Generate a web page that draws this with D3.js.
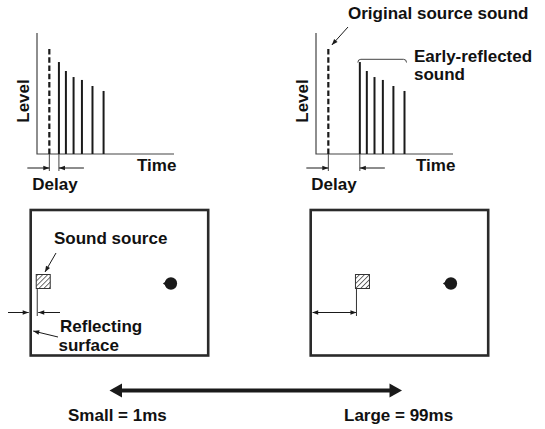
<!DOCTYPE html>
<html>
<head>
<meta charset="utf-8">
<script src="https://cdn.jsdelivr.net/npm/d3@7"></script>
<style>
  body { margin: 0; background: #fff; }
  text { font-family: "Liberation Sans", Arial, sans-serif; font-weight: bold; font-size: 17px; fill: #111; }
</style>
</head>
<body>
<div id="viz"></div>
<script>
// time offsets of the reflections after the first one (time units, 0-100 axis)
var reflectOffsets = [0, 5.1, 10.7, 16.8, 24.5, 32.6]
// level of each reflection (0-100 axis)
var reflectLevels = [76, 68.6, 63.6, 61.2, 56.2, 52.1]
var directTime = 9
var directLevel = 88.4
// delay before first reflection, small vs large room
var delays = [7, 23]
// source distance from reflecting wall (room units 0-100)
var sourceDist = [3.4, 25.5]
var rangeLabels = ["Small = 1ms", "Large = 99ms"]

var width = 545, height = 429
var svg = d3.select("#viz").append("svg")
  .attr("width", width).attr("height", height)

var ink = "#1a1a1a"

// hatch pattern for the source box
svg.append("defs").append("pattern")
  .attr("id", "hatch").attr("patternUnits", "userSpaceOnUse")
  .attr("width", 3.5).attr("height", 3.5)
  .attr("patternTransform", "rotate(45)")
  .append("line")
  .attr("x1", 0).attr("y1", 0).attr("x2", 0).attr("y2", 3.5)
  .attr("stroke", "#333").attr("stroke-width", 1.4)

// small arrow head at (x,y) pointing along angle
function head(g, x, y, ang, len, hw) {
  len = len || 6; hw = hw || 2.3
  var c = Math.cos(ang), s = Math.sin(ang)
  var bx = x - c * len, by = y - s * len
  g.append("path")
    .attr("d", "M" + x + "," + y + "L" + (bx - s * hw) + "," + (by + c * hw) +
      "L" + (bx + s * hw) + "," + (by - c * hw) + "Z")
    .attr("fill", ink)
}

function arrow(g, x1, y1, x2, y2) {
  g.append("line").attr("x1", x1).attr("y1", y1).attr("x2", x2).attr("y2", y2)
    .attr("stroke", ink).attr("stroke-width", 1)
  head(g, x2, y2, Math.atan2(y2 - y1, x2 - x1))
}

function label(g, x, y, t) {
  return g.append("text").attr("x", x).attr("y", y).text(t)
}

// --- impulse response plots ---
var plotLeft = [37, 316]
plotLeft.forEach(function (x0, i) {
  var g = svg.append("g")
  var x = d3.scaleLinear().domain([0, 100]).range([x0, x0 + 137])
  var y = d3.scaleLinear().domain([0, 100]).range([154, 33])

  g.append("path")
    .attr("d", "M" + x(0) + "," + y(100) + "V" + y(0) + "H" + x(100))
    .attr("fill", "none").attr("stroke", "#444").attr("stroke-width", 1.2)

  g.append("line")
    .attr("x1", x(directTime)).attr("x2", x(directTime))
    .attr("y1", y(0)).attr("y2", y(directLevel))
    .attr("stroke", ink).attr("stroke-width", 2.2)
    .attr("stroke-dasharray", "5.5,2.8")

  var first = directTime + delays[i]
  g.selectAll(".bar").data(reflectOffsets).enter().append("line")
    .attr("class", "bar")
    .attr("x1", function (d) { return x(first + d) })
    .attr("x2", function (d) { return x(first + d) })
    .attr("y1", y(0))
    .attr("y2", function (d, j) { return y(reflectLevels[j]) })
    .attr("stroke", ink).attr("stroke-width", 2)

  // delay marker
  var xa = x(directTime), xb = x(first)
  ;[xa, xb].forEach(function (xx) {
    g.append("line").attr("x1", xx).attr("x2", xx).attr("y1", 154).attr("y2", 171)
      .attr("stroke", "#444").attr("stroke-width", 1)
  })
  arrow(g, xa - 22, 168, xa, 168)
  arrow(g, xb + 25, 168, xb, 168)

  label(g, 0, 0, "Level")
    .attr("transform", "translate(" + (x0 - 8.5) + ",101) rotate(-90)")
    .attr("text-anchor", "middle")
  label(g, x0 + 100, 171, "Time")
  label(g, xa - 17, 189.5, "Delay")

  if (i == 1) {
    var bx1 = x(first) - 2, bx2 = x(first + reflectOffsets[5]) + 2
    g.append("path")
      .attr("d", "M" + bx1 + ",62.5Q" + bx1 + ",59.3 " + (bx1 + 3) + ",59.3H" + (bx2 - 3) +
        "Q" + bx2 + ",59.3 " + bx2 + ",62.5")
      .attr("fill", "none").attr("stroke", "#444").attr("stroke-width", 1)
    label(g, 414, 62, "Early-reflected")
    label(g, 414, 79.5, "sound")
    label(g, 348, 18.5, "Original source sound")
    arrow(g, 348, 27, x(directTime) + 3.5, 45)
  }
})

// --- rooms ---
var roomLeft = [30.7, 310.7]
roomLeft.forEach(function (x0, i) {
  var g = svg.append("g")
  var rx = d3.scaleLinear().domain([0, 100]).range([x0, x0 + 177.5])
  g.append("rect")
    .attr("x", rx(0)).attr("y", 210)
    .attr("width", rx(100) - rx(0)).attr("height", 145.5)
    .attr("fill", "none").attr("stroke", "#2a2a2a").attr("stroke-width", 2.6)

  var sx = rx(sourceDist[i])
  g.append("rect")
    .attr("x", sx - 0.5).attr("y", 274.5).attr("width", 14).attr("height", 14)
    .attr("fill", "url(#hatch)").attr("stroke", "#333").attr("stroke-width", 1)
  g.append("line").attr("x1", sx + 0.5).attr("x2", sx + 0.5).attr("y1", 289).attr("y2", 316)
    .attr("stroke", "#333").attr("stroke-width", 1)

  // listener
  var lx = rx(79)
  g.append("circle").attr("cx", lx).attr("cy", 283.5).attr("r", 6.2).attr("fill", ink)
  g.append("path")
    .attr("d", "M" + (lx - 8) + ",283.5L" + (lx - 4) + ",280.5L" + (lx - 4) + ",286.5Z")
    .attr("fill", ink)

  if (i == 0) {
    arrow(g, 8, 312.5, rx(0) - 2, 312.5)
    arrow(g, 60, 312.5, sx + 1.5, 312.5)
    label(g, 54, 244, "Sound source")
    arrow(g, 56, 253, 45, 272)
    label(g, 60, 332, "Reflecting")
    label(g, 58.5, 350.5, "surface")
    arrow(g, 58, 337, rx(0) + 2.5, 331)
  } else {
    var m = g.append("g")
    m.append("line").attr("x1", rx(0) + 2).attr("x2", sx).attr("y1", 312.5).attr("y2", 312.5)
      .attr("stroke", ink).attr("stroke-width", 1)
    head(m, rx(0) + 1.5, 312.5, Math.PI)
    head(m, sx + 0.5, 312.5, 0)
  }
})

// --- range arrow ---
var rg = svg.append("g")
var ax = d3.scalePoint().domain(rangeLabels).range([109.5, 402])
rg.append("line")
  .attr("x1", ax(rangeLabels[0]) + 8).attr("x2", ax(rangeLabels[1]) - 8)
  .attr("y1", 390.5).attr("y2", 390.5)
  .attr("stroke", ink).attr("stroke-width", 4)
head(rg, ax(rangeLabels[0]), 390.5, Math.PI, 12.5, 7)
head(rg, ax(rangeLabels[1]), 390.5, 0, 12.5, 7)
label(rg, 68, 421, rangeLabels[0])
label(rg, 344, 421, rangeLabels[1])
</script>
</body>
</html>
